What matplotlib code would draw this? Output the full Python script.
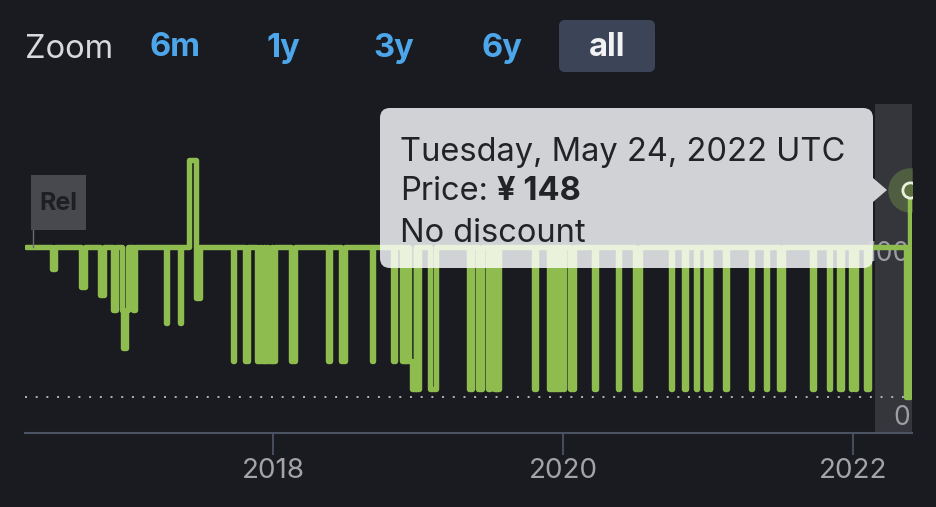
import pandas as pd
import matplotlib
matplotlib.use("Agg")
import matplotlib.pyplot as plt
import matplotlib.dates as mdates
from matplotlib.patches import FancyBboxPatch, Rectangle, Polygon

# price history (price is valid from the date on)
change_dates = [
    '2016-04-18', '2016-06-24', '2016-07-01', '2016-09-03', '2016-09-13',
    '2016-10-23', '2016-10-31', '2016-11-23', '2016-11-30', '2016-12-17',
    '2016-12-19', '2016-12-26', '2017-01-01', '2017-01-13', '2017-01-19',
    '2017-04-07', '2017-04-09', '2017-05-12', '2017-05-14', '2017-06-02',
    '2017-06-20', '2017-07-02', '2017-09-21', '2017-09-25', '2017-10-21',
    '2017-10-29', '2017-11-22', '2017-11-30', '2017-12-01', '2017-12-09',
    '2017-12-10', '2017-12-17', '2017-12-18', '2017-12-28', '2017-12-29',
    '2018-01-05', '2018-02-16', '2018-02-26', '2018-05-20', '2018-05-25',
    '2018-06-22', '2018-07-02', '2018-09-08', '2018-09-10', '2018-10-31',
    '2018-11-03', '2018-11-22', '2018-11-29', '2018-11-30', '2018-12-07',
    '2018-12-08', '2018-12-16', '2018-12-27', '2018-12-28', '2019-01-04',
    '2019-02-01', '2019-02-14', '2019-05-10', '2019-05-18', '2019-06-02',
    '2019-06-12', '2019-06-27', '2019-07-01', '2019-07-10', '2019-07-16',
    '2019-07-17', '2019-07-24', '2019-10-21', '2019-10-26', '2019-11-27',
    '2019-12-05', '2019-12-06', '2019-12-13', '2019-12-14', '2019-12-20',
    '2019-12-21', '2019-12-27', '2020-01-01', '2020-01-04', '2020-01-19',
    '2020-01-29', '2020-03-20', '2020-03-24', '2020-05-18', '2020-05-22',
    '2020-06-30', '2020-07-12', '2020-09-28', '2020-10-01', '2020-11-02',
    '2020-11-05', '2020-11-30', '2020-12-03', '2020-12-27', '2020-12-29',
    '2021-01-04', '2021-01-06', '2021-02-11', '2021-02-18', '2021-04-19',
    '2021-04-21', '2021-05-26', '2021-05-28', '2021-06-29', '2021-07-09',
    '2021-09-19', '2021-09-24', '2021-11-02', '2021-11-04', '2021-11-27',
    '2021-12-04', '2021-12-27', '2021-12-29', '2022-01-05', '2022-01-07',
    '2022-02-01', '2022-02-09', '2022-05-14', '2022-05-24',
]
prices = [
    113, 100, 113, 89, 113,
    84, 113, 75, 113, 75,
    52, 75, 113, 75, 113,
    67, 113, 67, 113, 166,
    82, 113, 44, 113, 44,
    113, 44, 113, 44, 113,
    44, 113, 44, 113, 44,
    113, 44, 113, 44, 113,
    44, 113, 44, 113, 44,
    113, 44, 113, 44, 113,
    44, 27, 113, 27, 113,
    27, 113, 27, 113, 27,
    113, 27, 113, 27, 113,
    27, 113, 27, 113, 27,
    113, 27, 113, 27, 113,
    27, 113, 27, 113, 27,
    113, 27, 113, 27, 113,
    27, 113, 27, 113, 27,
    113, 27, 113, 27, 113,
    27, 113, 27, 113, 27,
    113, 27, 113, 27, 113,
    27, 113, 27, 113, 27,
    113, 27, 113, 27, 113,
    27, 113, 22, 148,
]
lowest_price = 22
release_date = '2016-05-07'
y_labels = [0, 100]
year_ticks = ['2018-01-01', '2020-01-01', '2022-01-01']
zoom_buttons = ['6m', '1y', '3y', '6y', 'all']
button_x = [175, 283, 394, 502, 607]

BG = '#1a1b20'
GREEN = '#8fbc4f'
plt.rcParams['font.family'] = ['Inter', 'DejaVu Sans']

fig = plt.figure(figsize=(9.36, 5.07), dpi=100, facecolor=BG)
ax = fig.add_axes([25 / 936, 74 / 507, 887 / 936, 329 / 507])
ax.set_facecolor(BG)

# overlay in pixel coordinates for the ui parts
ov = fig.add_axes([0, 0, 1, 1])
ov.set_xlim(0, 936)
ov.set_ylim(507, 0)
ov.axis('off')
ov.patch.set_alpha(0)
px = ov.transData

dates = pd.to_datetime(change_dates)
ax.set_xlim(pd.Timestamp('2016-04-16'), pd.Timestamp('2022-05-29'))
ax.set_ylim(0, 200.4)

# hover band at the right edge
ax.add_patch(Rectangle((0.958, 0), 0.042, 1, transform=ax.transAxes,
                       color='#34363c', zorder=0, lw=0))

# lowest price line
ax.axhline(lowest_price, color='#b4b5ba', lw=1.4, ls=(0, (1, 4.5)), zorder=1)

ax.step(dates, prices, where='post', color=GREEN, lw=3.9,
        solid_joinstyle='round', solid_capstyle='round', zorder=3)

# y labels on the right, above their value
for v in y_labels:
    ax.annotate(str(v), xy=(1, v), xycoords=('axes fraction', 'data'),
                xytext=(-2, 15), textcoords='offset pixels', ha='right', va='center',
                color='#9d9ea4', fontsize=19, zorder=2)

# tooltip
tip = FancyBboxPatch((380, 108), 493, 160, boxstyle='round,pad=0,rounding_size=10',
                     fc='#dcdde0', ec='none', alpha=0.95, transform=px, zorder=6)
ax.add_patch(tip)
ax.add_patch(Polygon([(873, 178), (887, 190), (873, 202)], closed=True,
                     fc='#dcdde0', ec='none', alpha=0.95, transform=px, zorder=6))
pale, = ax.step(dates, prices, where='post', color='#eaf2dc', lw=3.9,
                solid_joinstyle='round', solid_capstyle='round', zorder=7)
pale.set_clip_path(tip)

last = dates[-1]
tkw = dict(ha='left', va='center', fontsize=23.5, color='#222326',
           transform=px, zorder=8, clip_on=False)
ax.text(400, 152, last.strftime('%A, %B ') + str(last.day) + last.strftime(', %Y UTC'), **tkw)
ax.text(400, 192, 'Price:', **tkw)
ax.text(497, 192, '¥ ' + str(prices[-1]), fontweight='bold', **tkw)
ax.text(400, 233, 'No discount', **tkw)

# hovered point
ax.plot(last, prices[-1], 'o', ms=32, color=GREEN, alpha=0.3, mew=0, zorder=9)
ax.plot(last, prices[-1], 'o', ms=11, mfc='#5c7040', mec='#e9f1de', mew=2, zorder=10)

ax.set_yticks([])
ax.set_xticks(pd.to_datetime(year_ticks))
ax.xaxis.set_major_formatter(mdates.DateFormatter('%Y'))
ax.tick_params(axis='x', length=16, width=1.3, color='#4b5263',
               labelcolor='#a3a4aa', labelsize=20, pad=2)
for s in ['top', 'left', 'right']:
    ax.spines[s].set_visible(False)
ax.spines['bottom'].set_color('#4b5263')
ax.spines['bottom'].set_linewidth(1.5)

# zoom buttons
ov.text(25, 49, 'Zoom', ha='left', va='center', fontsize=23.5, color='#d8d9dd')
for lab, bx in zip(zoom_buttons, button_x):
    if lab == 'all':
        ov.add_patch(FancyBboxPatch((bx - 48, 20), 96, 52,
                                    boxstyle='round,pad=0,rounding_size=6',
                                    fc='#3c4558', ec='none'))
        ov.text(bx, 48, lab, ha='center', va='center', fontsize=23.5,
                fontweight='bold', color='#f2f2f4')
    else:
        ov.text(bx, 48, lab, ha='center', va='center', fontsize=23.5,
                fontweight='bold', color='#4da6ea')

# release flag
rx, ry = ax.transData.transform((mdates.date2num(pd.Timestamp(release_date)), prices[0]))
ry = 507 - ry
ov.plot([rx, rx], [ry, ry - 17], color='#6b6c72', lw=1)
ov.add_patch(Rectangle((rx - 2, ry - 72), 55, 55, fc='#48494e', ec='none'))
ov.text(rx + 25, ry - 44, 'Rel', ha='center', va='center', fontsize=18,
        fontweight='bold', color='#1e1f23')

fig.savefig('out.png', dpi=100, facecolor=BG)
